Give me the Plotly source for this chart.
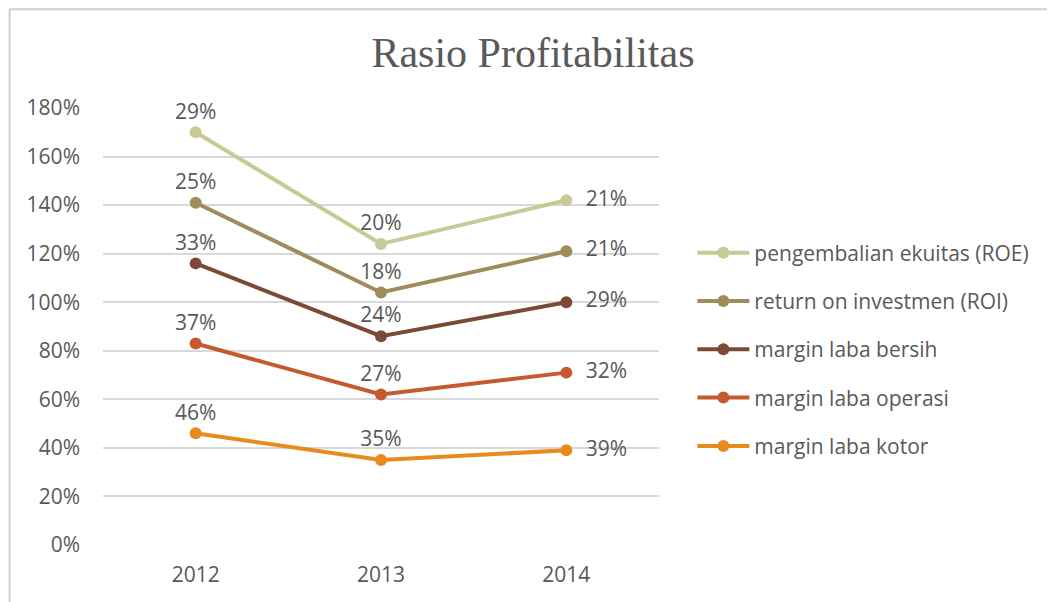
import plotly.graph_objects as go

years = ["2012", "2013", "2014"]
# values per ratio (stacked in the chart, like the Excel "stacked line")
kotor = [0.46, 0.35, 0.39]
operasi = [0.37, 0.27, 0.32]
bersih = [0.33, 0.24, 0.29]
roi = [0.25, 0.18, 0.21]
roe = [0.29, 0.20, 0.21]

names = ["margin laba kotor", "margin laba operasi", "margin laba bersih",
         "return on investmen (ROI)", "pengembalian ekuitas (ROE)"]
series = [kotor, operasi, bersih, roi, roe]
colors = ["#E98A1E", "#C45A2E", "#7A4A36", "#A08C5B", "#C8CA95"]

FONT = "Open Sans"
GREY = "#595959"

fig = go.Figure()
for i, (name, vals, col) in enumerate(zip(names, series, colors)):
    labels = ["%d%%" % round(v * 100) for v in vals]
    labels[2] = "  " + labels[2]
    fig.add_trace(go.Scatter(
        x=years, y=vals, name=name,
        stackgroup="s", fill="none", legendgroup=name, legendrank=10 - i,
        mode="lines+markers+text", cliponaxis=False,
        line=dict(color=col, width=4),
        marker=dict(color=col, size=12),
        text=labels,
        textposition=["top center", "top center", "middle right"],
        textfont=dict(family=FONT, size=21, color=GREY),
    ))

fig.update_layout(
    width=1055, height=602,
    margin=dict(l=95, r=404, t=100, b=65),
    paper_bgcolor="white", plot_bgcolor="white",
    title=dict(text="Rasio Profitabilitas", x=0.4976, xanchor="center", y=0.927, yanchor="middle",
               font=dict(family="Liberation Serif", size=42, color=GREY)),
    showlegend=True,
    legend=dict(x=1.06, y=0.715, xanchor="left", yanchor="top",
                traceorder="grouped", tracegroupgap=18, itemwidth=52,
                font=dict(family=FONT, size=21, color=GREY)),
    font=dict(family=FONT, size=21, color=GREY),
)
fig.update_xaxes(range=[-0.5, 2.5], showgrid=False, showline=False, ticks="",
                 tickfont=dict(size=21, color=GREY), ticklabelstandoff=15)
fig.update_yaxes(range=[0, 1.8], dtick=0.2, tickformat=".0%", showgrid=True,
                 gridcolor="#D9D9D9", gridwidth=2, zeroline=False,
                 tickfont=dict(size=21, color=GREY), ticklabelstandoff=22)
# outer chart border (left and top edges visible)
fig.add_shape(type="line", xref="paper", yref="paper", x0=-0.168, x1=1.8, y0=1.226, y1=1.226,
              line=dict(color="#D0D0D0", width=2))
fig.add_shape(type="line", xref="paper", yref="paper", x0=-0.168, x1=-0.168, y0=-0.2, y1=1.226,
              line=dict(color="#D0D0D0", width=2))

fig.write_html("out.html")
